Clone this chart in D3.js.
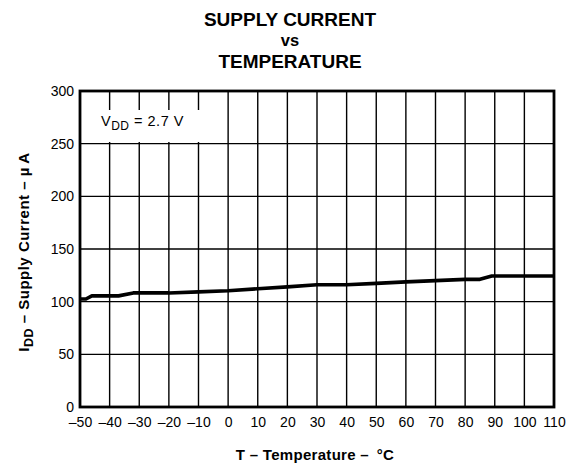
<!DOCTYPE html>
<html>
<head>
<meta charset="utf-8">
<script src="https://cdn.jsdelivr.net/npm/d3@7"></script>
<style>
  html, body { margin: 0; padding: 0; background: #fff; }
  svg { display: block; font-family: "Liberation Sans", Arial, Helvetica, sans-serif; }
</style>
</head>
<body>
<svg id="chart" width="582" height="464"></svg>
<script>
// Supply current (µA) versus ambient temperature (°C), VDD = 2.7 V
const temperatures = [-50, -48, -46, -37, -32, -20, -10, 0, 10, 20, 30, 40, 50, 60, 70, 80, 85, 89, 110];
const supplyCurrent = [102.5, 102.5, 105.5, 105.5, 108.3, 108.3, 109.3, 110.4, 112.2, 114.0, 116.0, 116.0, 117.4, 118.8, 120.0, 121.2, 121.2, 124.4, 124.4];
const xTicks = [-50, -40, -30, -20, -10, 0, 10, 20, 30, 40, 50, 60, 70, 80, 90, 100, 110];
const yTicks = [0, 50, 100, 150, 200, 250, 300];
const titleLines = ["SUPPLY CURRENT", "vs", "TEMPERATURE"];

const svg = d3.select("#chart");
const plot = { left: 80, right: 554, top: 91, bottom: 407 };

const x = d3.scaleLinear().domain([-50, 110]).range([plot.left, plot.right]);
const y = d3.scaleLinear().domain([0, 300]).range([plot.bottom, plot.top]);

// Title
svg.append("g").selectAll("text").data(titleLines).join("text")
  .attr("x", 290)
  .attr("y", (d, i) => [26, 46, 68][i])
  .attr("text-anchor", "middle")
  .attr("font-weight", "bold")
  .attr("font-size", (d, i) => i === 1 ? 16.5 : 19)
  .text(d => d);

// Grid
const grid = svg.append("g").attr("stroke", "#000").attr("stroke-width", 1.4);
grid.selectAll("line.v").data(xTicks.slice(1, -1)).join("line")
  .attr("class", "v")
  .attr("x1", d => x(d)).attr("x2", d => x(d))
  .attr("y1", plot.top).attr("y2", plot.bottom);
grid.selectAll("line.h").data(yTicks.slice(1, -1)).join("line")
  .attr("class", "h")
  .attr("x1", plot.left).attr("x2", plot.right)
  .attr("y1", d => y(d)).attr("y2", d => y(d));

// Condition label with a white backing that interrupts the grid
svg.append("rect")
  .attr("x", 96).attr("y", 110).attr("width", 114).attr("height", 32)
  .attr("fill", "#fff");
const cond = svg.append("text")
  .attr("x", 101).attr("y", 126)
  .attr("font-size", 14.5).attr("letter-spacing", 0.5);
cond.append("tspan").text("V");
cond.append("tspan").attr("font-size", 12).attr("dy", 4).text("DD");
cond.append("tspan").attr("dy", -4).text(" = 2.7 V");

// Axes (labels only; the frame is drawn separately)
const xAxis = svg.append("g")
  .attr("transform", `translate(0,${plot.bottom})`)
  .call(d3.axisBottom(x).tickValues(xTicks).tickSize(0).tickPadding(10)
    .tickFormat(d => d < 0 ? "\u2013" + Math.abs(d) : d));
const yAxis = svg.append("g")
  .attr("transform", `translate(${plot.left},0)`)
  .call(d3.axisLeft(y).tickValues(yTicks).tickSize(0).tickPadding(6));
[xAxis, yAxis].forEach(a => {
  a.select(".domain").remove();
  a.selectAll("text").attr("font-size", 14).attr("fill", "#000")
    .attr("font-family", "'Liberation Sans', Arial, sans-serif");
});

// Data curve
const line = d3.line().x((d, i) => x(temperatures[i])).y(d => y(d));
svg.append("path")
  .datum(supplyCurrent)
  .attr("d", line)
  .attr("fill", "none")
  .attr("stroke", "#000")
  .attr("stroke-width", 3.6)
  .attr("stroke-linejoin", "round");

// Frame
svg.append("rect")
  .attr("x", plot.left).attr("y", plot.top)
  .attr("width", plot.right - plot.left).attr("height", plot.bottom - plot.top)
  .attr("fill", "none").attr("stroke", "#000").attr("stroke-width", 2.8);

// Axis titles
svg.append("text")
  .attr("x", 315).attr("y", 460)
  .attr("text-anchor", "middle")
  .attr("font-weight", "bold").attr("font-size", 15).attr("letter-spacing", 0.3)
  .text("T \u2013 Temperature \u2013 \u2009\u00B0C");

const yTitle = svg.append("text")
  .attr("transform", "translate(28.5,252) rotate(-90)")
  .attr("text-anchor", "middle")
  .attr("font-weight", "bold").attr("font-size", 15).attr("letter-spacing", 0.5);
yTitle.append("tspan").text("I");
yTitle.append("tspan").attr("font-size", 12.5).attr("dy", 4).text("DD");
yTitle.append("tspan").attr("dy", -4).text(" \u2013 Supply Current \u2013 \u00B5\u2009A");
</script>
</body>
</html>
